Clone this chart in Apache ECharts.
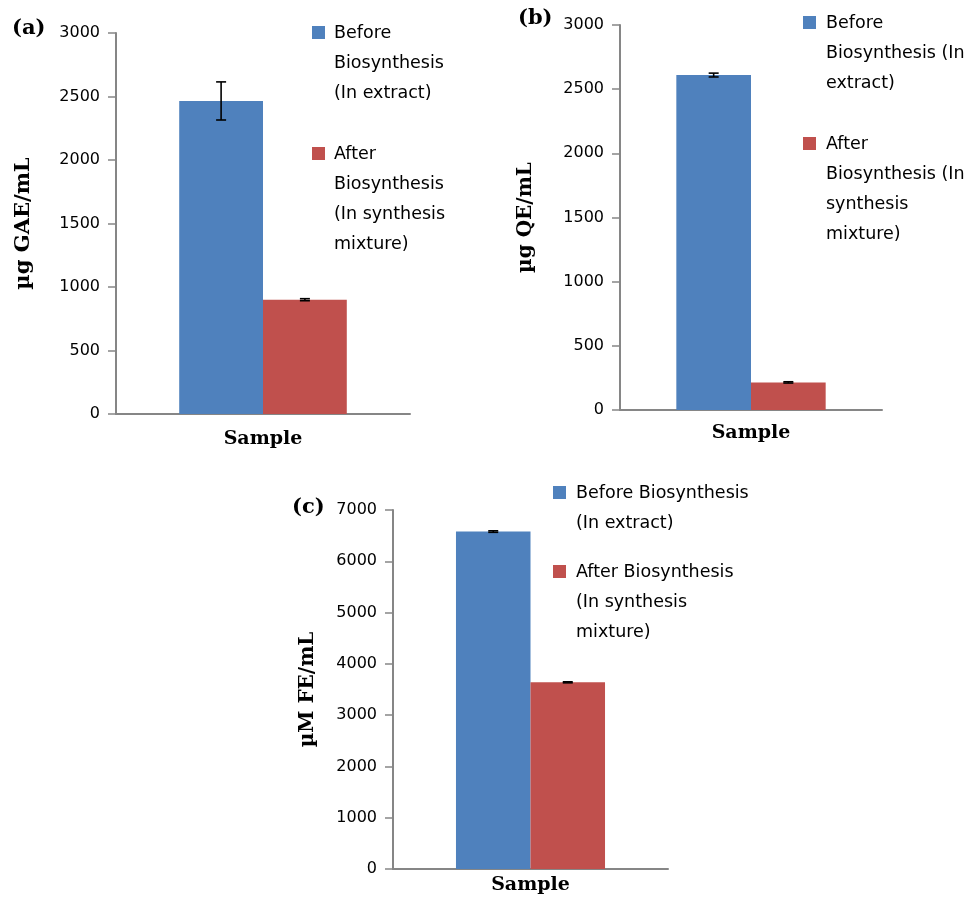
<!DOCTYPE html>
<html>
<head>
<meta charset="utf-8">
<script src="https://cdn.jsdelivr.net/npm/echarts@6/dist/echarts.min.js"></script>
<style>
html,body{margin:0;padding:0;background:#fff;}
#chart{width:972px;height:897px;}
</style>
</head>
<body>
<div id="chart"></div>
<script>
// ---- data ----
const categories = ['Sample'];
const seriesNames = ['Before Biosynthesis (In extract)', 'After Biosynthesis (In synthesis mixture)'];
const gaeValues = [2465, 900];
const gaeErrors = [150, 8];
const qeValues = [2610, 215];
const qeErrors = [15, 5];
const feValues = [6580, 3640];
const feErrors = [15, 10];
const gaeAxis = [0, 3000, 500];
const qeAxis = [0, 3000, 500];
const feAxis = [0, 7000, 1000];
const yTitles = ['µg GAE/mL', 'µg QE/mL', 'µM FE/mL'];
const xTitle = 'Sample';
const panelLabels = ['(a)', '(b)', '(c)'];
const legendA = [['Before', 'Biosynthesis', '(In extract)'], ['After', 'Biosynthesis', '(In synthesis', 'mixture)']];
const legendB = [['Before', 'Biosynthesis (In', 'extract)'], ['After', 'Biosynthesis (In', 'synthesis', 'mixture)']];
const legendC = [['Before Biosynthesis', '(In extract)'], ['After Biosynthesis', '(In synthesis', 'mixture)']];

// ---- style ----
const colors = ['#4F81BD', '#C0504D'];
const axisGray = '#868686';
const sansFont = 'DejaVu Sans';
const serifFont = 'DejaVu Serif';

const panels = [
  { values: gaeValues, errors: gaeErrors, axis: gaeAxis, gap: 0.43, titleSize: 21, grid: { left: 116, width: 294, top: 33, height: 381 }, nameGap: 82, xNameGap: 16, legend: legendA, legendPos: { x: 312, y1: 26, y2: 147, tx: 334 } },
  { values: qeValues, errors: qeErrors, axis: qeAxis, gap: 0.43, titleSize: 20, grid: { left: 620, width: 262, top: 25, height: 385 }, nameGap: 84, xNameGap: 14, legend: legendB, legendPos: { x: 803, y1: 16, y2: 137, tx: 826 } },
  { values: feValues, errors: feErrors, axis: feAxis, gap: 0.458, titleSize: 20, grid: { left: 393, width: 275, top: 510, height: 359 }, nameGap: 75, xNameGap: 7, legend: legendC, legendPos: { x: 553, y1: 486, y2: 565, tx: 576 } }
];
const panelLabelPos = [[12, 31], [518, 21], [292, 510]];

function makeErrRender(gapRatio) {
  return function (params, api) {
    const cat = api.value(0), v = api.value(1), e = api.value(2), k = api.value(3);
    const c = api.coord([cat, v]);
    const catW = api.size([1, 0])[0];
    const barW = catW * (1 - gapRatio) / 2;
    const cx = c[0] + (k === 0 ? -barW / 2 : barW / 2);
    const hi = api.coord([cat, v + e])[1];
    const lo = api.coord([cat, v - e])[1];
    const st = { stroke: '#000', lineWidth: 1.6 };
    const hw = 5;
    return {
      type: 'group',
      children: [
        { type: 'line', shape: { x1: cx, y1: hi, x2: cx, y2: lo }, style: st },
        { type: 'line', shape: { x1: cx - hw, y1: hi, x2: cx + hw, y2: hi }, style: st },
        { type: 'line', shape: { x1: cx - hw, y1: lo, x2: cx + hw, y2: lo }, style: st }
      ]
    };
  };
}

const grids = [], xAxes = [], yAxes = [], series = [], graphics = [];
panels.forEach((p, i) => {
  grids.push(Object.assign({ containLabel: false }, p.grid));
  xAxes.push({
    type: 'category', gridIndex: i, data: categories,
    name: xTitle, nameLocation: 'middle', nameGap: p.xNameGap,
    nameTextStyle: { fontFamily: serifFont, fontWeight: 'bold', fontSize: 19, color: '#000' },
    axisLine: { lineStyle: { color: axisGray, width: 2 } },
    axisTick: { show: false }, axisLabel: { show: false }
  });
  yAxes.push({
    type: 'value', gridIndex: i, min: p.axis[0], max: p.axis[1], interval: p.axis[2],
    name: yTitles[i], nameLocation: 'middle', nameGap: p.nameGap,
    nameTextStyle: { fontFamily: serifFont, fontWeight: 'bold', fontSize: p.titleSize, color: '#000' },
    axisLine: { show: true, lineStyle: { color: axisGray, width: 2 } },
    axisTick: { show: true, length: 8, lineStyle: { color: axisGray, width: 1.5 } },
    axisLabel: { fontFamily: sansFont, fontSize: 16, color: '#000', margin: 16, formatter: v => String(v) },
    splitLine: { show: false }
  });
  p.values.forEach((v, k) => {
    series.push({
      type: 'bar', name: seriesNames[k], xAxisIndex: i, yAxisIndex: i,
      data: [v], barGap: '0%', barCategoryGap: (p.gap * 100) + '%',
      itemStyle: { color: colors[k] }, silent: true, animation: false
    });
  });
  series.push({
    type: 'custom', xAxisIndex: i, yAxisIndex: i, renderItem: makeErrRender(p.gap), z: 10,
    encode: { x: 0, y: 1 }, animation: false, silent: true,
    data: p.values.map((v, k) => [0, v, p.errors[k], k])
  });
  const lp = p.legendPos;
  [lp.y1, lp.y2].forEach((y, k) => {
    graphics.push({ type: 'rect', left: lp.x, top: y, shape: { width: 13, height: 13 }, style: { fill: colors[k] } });
    graphics.push({
      type: 'text', left: lp.tx, top: y - 8,
      style: { text: p.legend[k].join('\n'), font: '17.5px "' + sansFont + '"', fill: '#000', lineHeight: 30 }
    });
  });
  graphics.push({
    type: 'text', left: panelLabelPos[i][0], top: panelLabelPos[i][1] - 13,
    style: { text: panelLabels[i], font: 'bold 21px "' + serifFont + '"', fill: '#000' }
  });
});

const chart = echarts.init(document.getElementById('chart'), null, { renderer: 'canvas' });
chart.setOption({
  animation: false,
  backgroundColor: '#fff',
  grid: grids, xAxis: xAxes, yAxis: yAxes, series: series, graphic: graphics
});
</script>
</body>
</html>
